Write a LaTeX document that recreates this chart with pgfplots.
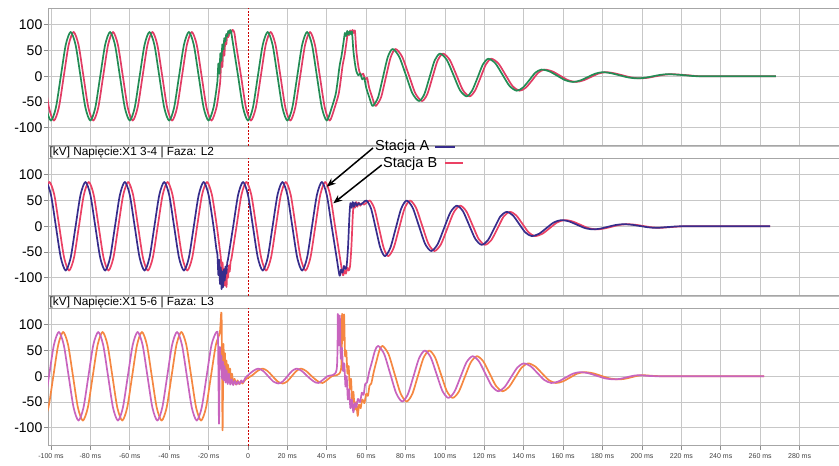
\documentclass[border=0pt]{standalone}
\usepackage{pgfplots}
\pgfplotsset{compat=1.18}
\usepackage{fontspec}
\setmainfont{Liberation Sans}
\usetikzlibrary{arrows.meta}
\definecolor{cgreen}{RGB}{35,140,85}
\definecolor{cred}{RGB}{225,60,100}
\definecolor{cblue}{RGB}{55,45,140}
\definecolor{credb}{RGB}{235,65,100}
\definecolor{cpurple}{RGB}{200,100,190}
\definecolor{corange}{RGB}{245,135,65}
\pgfplotsset{
 panel/.style={
  scale only axis, width=791pt, height=137.5pt,
  xmin=-101.5, xmax=300, ymin=-135, ymax=132,
  xtick={-100,-80,-60,-40,-20,20,40,60,80,100,120,140,160,180,200,220,240,260,280},
  extra x ticks={0},
  extra x tick style={major grid style={draw=red!80!black, dash pattern=on 2pt off 1.5pt, line width=0.7pt}},
  ytick={-100,-50,0,50,100},
  xmajorgrids, ymajorgrids,
  major grid style={draw=black!22, line width=0.9pt},
  axis line style={draw=black!35, line width=0.9pt},
  major tick style={draw=black!45, line width=0.7pt},
  tick align=outside, major tick length=4pt,
  xtick pos=bottom, ytick pos=left,
  /pgf/number format/assume math mode=true,
  yticklabel style={font=\fontsize{14}{14}\selectfont, inner sep=1.5pt},
  xticklabel style={font=\fontsize{7}{7}\selectfont, text=black!75},
  every axis plot/.append style={line width=1.7pt, smooth, tension=0.45, line join=round},
 }
}
\begin{document}
\begin{tikzpicture}
% ---------------- Panel 1 ----------------
\begin{axis}[panel, at={(48pt,-8.3pt)}, anchor=north west, xticklabels={}, extra x tick labels={}]
\addplot[color=cred] coordinates {(-103.5,0)(-101,-61)(-98.5,-86)(-96,-61)(-93.5,0)(-91,61)(-88.5,86)(-86,61)(-83.5,0)(-81,-61)(-78.5,-86)(-76,-61)(-73.5,0)(-71,61)(-68.5,86)(-66,61)(-63.5,0)(-61,-61)(-58.5,-86)(-56,-61)(-53.5,0)(-51,61)(-48.5,86)(-46,61)(-43.5,0)(-41,-61)(-38.5,-86)(-36,-61)(-33.5,0)(-31,61)(-28.5,86)(-26,61)(-23.5,0)(-21,-61)(-18.5,-86)(-16,-61)(-14.5,-24)(-14,-5)(-13.5,37)(-13,18)(-12.5,55)(-12,40)(-11.5,70)(-11,62)(-10.5,82)(-10,76)(-9,88)(-8.5,84)(-8,90)(-7,86)(-6,61)(-3.5,0)(-1,-61)(1.5,-86)(4,-61)(6.5,0)(9,61)(11.5,86)(14,61)(16.5,0)(19,-61)(21.5,-86)(24,-61)(26.5,0)(29,61)(31.5,86)(34,61)(36.5,0)(39,-61)(41.5,-86)(44,-61)(46,-35)(47,-10)(48,20)(49,40)(50,66)(50.7,84)(51.3,80)(51.9,89)(52.5,83)(53.1,90)(53.7,84)(54.3,88)(55,50)(55.8,25)(56.5,10)(57.5,2)(58.5,5)(59.5,-6)(60.5,-3)(61.5,-22)(63,-40)(64.3,-55)(65.1,-57)(67.55,-41)(70,-2)(72.45,37)(74.9,53)(78.25,38)(81.6,3)(84.95,-33)(88.3,-48)(91,-35)(93.65,-2)(96.3,31)(99,44)(102.4,32)(105.75,3)(109.1,-27)(112.5,-39)(115.25,-28)(118,-3)(120.75,23)(123.5,34)(127.1,25)(130.7,3)(134.3,-19)(137.9,-28)(141.05,-22)(144.2,-8)(147.35,7)(150.5,13)(154.5,9.5)(158.5,1)(162.5,-7.5)(166.5,-11)(170.25,-8)(174,-1.5)(177.75,5)(181.5,8)(185.75,6)(190,2)(194.25,-2)(198.5,-4)(202.75,-3)(207,0)(211.25,3)(215.5,4)(223.5,2)(231.5,0)(268,0)};
\addplot[color=cgreen] coordinates {(-105,0)(-102.5,-61)(-100,-86)(-97.5,-61)(-95,0)(-92.5,61)(-90,86)(-87.5,61)(-85,0)(-82.5,-61)(-80,-86)(-77.5,-61)(-75,0)(-72.5,61)(-70,86)(-67.5,61)(-65,0)(-62.5,-61)(-60,-86)(-57.5,-61)(-55,0)(-52.5,61)(-50,86)(-47.5,61)(-45,0)(-42.5,-61)(-40,-86)(-37.5,-61)(-35,0)(-32.5,61)(-30,86)(-27.5,61)(-25,0)(-22.5,-61)(-20,-86)(-17.5,-61)(-16,-25)(-15.5,-10)(-15,25)(-14.5,5)(-14,45)(-13.5,30)(-13,62)(-12.5,52)(-12,74)(-11.5,68)(-11,82)(-10.5,78)(-10,88)(-9.5,84)(-9,90)(-8.5,85)(-7.5,61)(-5,0)(-2.5,-61)(0,-86)(2.5,-61)(5,0)(7.5,61)(10,86)(12.5,61)(15,0)(17.5,-61)(20,-86)(22.5,-61)(25,0)(27.5,61)(30,86)(32.5,61)(35,0)(37.5,-61)(40,-86)(42.5,-61)(44.5,-35)(45.5,-10)(46.5,20)(47.5,40)(48.5,66)(49.2,84)(49.8,78)(50.4,88)(51,81)(51.6,87)(52.2,82)(52.8,86)(53.5,50)(54.3,25)(55,10)(56,2)(57,5)(58,-6)(59,-3)(60,-22)(61.5,-40)(62.8,-55)(63.6,-57)(66.05,-41)(68.5,-2)(70.95,37)(73.4,53)(76.75,38)(80.1,3)(83.45,-33)(86.8,-48)(89.5,-35)(92.15,-2)(94.8,31)(97.5,44)(100.9,32)(104.25,3)(107.6,-27)(111,-39)(113.75,-28)(116.5,-3)(119.25,23)(122,34)(125.6,25)(129.2,3)(132.8,-19)(136.4,-28)(139.55,-22)(142.7,-8)(145.85,7)(149,13)(153,9.5)(157,1)(161,-7.5)(165,-11)(168.75,-8)(172.5,-1.5)(176.25,5)(180,8)(184.25,6)(188.5,2)(192.75,-2)(197,-4)(201.25,-3)(205.5,0)(209.75,3)(214,4)(222,2)(230,0)(268,0)};
\end{axis}
% strip 1
\fill[white] (48pt,-145.8pt) rectangle (839pt,-158.3pt);
\draw[black!25, line width=0.6pt] (48pt,-145.8pt) -- (839pt,-145.8pt) (48pt,-158.3pt) -- (839pt,-158.3pt);
\draw[black!35, line width=0.9pt] (48pt,-145.8pt) -- (48pt,-158.3pt);
\node[anchor=west, inner sep=0pt, font=\fontsize{11.8}{12}\selectfont] at (49.5pt,-152pt) {[kV] Napięcie:X1 3-4 | Faza: L2};
% ---------------- Panel 2 ----------------
\begin{axis}[panel, at={(48pt,-158.3pt)}, anchor=north west, xticklabels={}, extra x tick labels={}]
\addplot[color=credb] coordinates {(-103.3,61)(-100.8,86)(-98.3,61)(-95.8,0)(-93.3,-61)(-90.8,-86)(-88.3,-61)(-85.8,0)(-83.3,61)(-80.8,86)(-78.3,61)(-75.8,0)(-73.3,-61)(-70.8,-86)(-68.3,-61)(-65.8,0)(-63.3,61)(-60.8,86)(-58.3,61)(-55.8,0)(-53.3,-61)(-50.8,-86)(-48.3,-61)(-45.8,0)(-43.3,61)(-40.8,86)(-38.3,61)(-35.8,0)(-33.3,-61)(-30.8,-86)(-28.3,-61)(-25.8,0)(-23.3,61)(-20.8,86)(-18.3,61)(-15.8,0)(-14.3,-45)(-13.8,-60)(-13.3,-98)(-12.9,-70)(-12.5,-108)(-12.1,-82)(-11.7,-115)(-11.3,-86)(-10.9,-118)(-10.5,-84)(-10.1,-100)(-9.7,-76)(-9.3,-88)(-8.8,-68)(-8.3,-61)(-5.8,0)(-3.3,61)(-0.8,86)(1.7,61)(4.2,0)(6.7,-61)(9.2,-86)(11.7,-61)(14.2,0)(16.7,61)(19.2,86)(21.7,61)(24.2,0)(26.7,-61)(29.2,-86)(31.7,-61)(34.2,0)(36.7,61)(39.2,86)(41.7,61)(44.2,0)(46.7,-61)(48.2,-95)(49,-86)(49.7,-92)(50.4,-80)(51.1,-86)(51.8,-78)(52.5,-40)(53.2,20)(53.7,45)(54.3,36)(54.9,47)(55.5,38)(56.2,46)(57,40)(57.9,45)(58.9,42)(60.2,46)(61.9,50)(64.2,34)(66.55,-4)(68.9,-42)(71.2,-58)(73.95,-42)(76.7,-4)(79.45,34)(82.2,50)(85.3,36)(88.45,1)(91.6,-34)(94.7,-48)(97.95,-35)(101.2,-4)(104.45,27)(107.7,40)(110.85,29)(114,2)(117.15,-25)(120.3,-36)(123.5,-27)(126.7,-4)(129.8,19)(133,28)(136.2,21)(139.35,4.5)(142.5,-12)(145.7,-19)(149.45,-14.5)(153.2,-3.5)(156.95,7.5)(160.7,12)(164.7,9.4)(168.7,3)(172.7,-3.4)(176.7,-6)(180.6,-4.5)(184.45,-1)(188.3,2.5)(192.2,4)(196.45,3)(200.7,0.5)(204.95,-2)(209.2,-3)(216.7,-1)(223.7,0)(265,0)};
\addplot[color=cblue] coordinates {(-105,61)(-102.5,86)(-100,61)(-97.5,0)(-95,-61)(-92.5,-86)(-90,-61)(-87.5,0)(-85,61)(-82.5,86)(-80,61)(-77.5,0)(-75,-61)(-72.5,-86)(-70,-61)(-67.5,0)(-65,61)(-62.5,86)(-60,61)(-57.5,0)(-55,-61)(-52.5,-86)(-50,-61)(-47.5,0)(-45,61)(-42.5,86)(-40,61)(-37.5,0)(-35,-61)(-32.5,-86)(-30,-61)(-27.5,0)(-25,61)(-22.5,86)(-20,61)(-17.5,0)(-16,-45)(-15.5,-55)(-15,-95)(-14.6,-65)(-14.2,-112)(-13.8,-80)(-13.4,-122)(-13,-88)(-12.6,-118)(-12.2,-84)(-11.8,-105)(-11.4,-78)(-11,-92)(-10.5,-70)(-10,-61)(-7.5,0)(-5,61)(-2.5,86)(0,61)(2.5,0)(5,-61)(7.5,-86)(10,-61)(12.5,0)(15,61)(17.5,86)(20,61)(22.5,0)(25,-61)(27.5,-86)(30,-61)(32.5,0)(35,61)(37.5,86)(40,61)(42.5,0)(45,-61)(46.5,-96)(47.3,-84)(48,-90)(48.7,-77)(49.4,-83)(50.1,-76)(50.8,-40)(51.5,20)(52,45)(52.6,36)(53.2,47)(53.8,38)(54.5,46)(55.3,40)(56.2,45)(57.2,42)(58.5,46)(60.2,50)(62.5,34)(64.85,-4)(67.2,-42)(69.5,-58)(72.25,-42)(75,-4)(77.75,34)(80.5,50)(83.6,36)(86.75,1)(89.9,-34)(93,-48)(96.25,-35)(99.5,-4)(102.75,27)(106,40)(109.15,29)(112.3,2)(115.45,-25)(118.6,-36)(121.8,-27)(125,-4)(128.1,19)(131.3,28)(134.5,21)(137.65,4.5)(140.8,-12)(144,-19)(147.75,-14.5)(151.5,-3.5)(155.25,7.5)(159,12)(163,9.4)(167,3)(171,-3.4)(175,-6)(178.9,-4.5)(182.75,-1)(186.6,2.5)(190.5,4)(194.75,3)(199,0.5)(203.25,-2)(207.5,-3)(215,-1)(222,0)(265,0)};
\end{axis}
% strip 2
\fill[white] (48pt,-295.8pt) rectangle (839pt,-308.3pt);
\draw[black!25, line width=0.6pt] (48pt,-295.8pt) -- (839pt,-295.8pt) (48pt,-308.3pt) -- (839pt,-308.3pt);
\draw[black!35, line width=0.9pt] (48pt,-295.8pt) -- (48pt,-308.3pt);
\node[anchor=west, inner sep=0pt, font=\fontsize{11.8}{12}\selectfont] at (49.5pt,-302pt) {[kV] Napięcie:X1 5-6 | Faza: L3};
% ---------------- Panel 3 ----------------
\begin{axis}[panel, at={(48pt,-308.3pt)}, anchor=north west,
  xticklabels={-100 ms,-80 ms,-60 ms,-40 ms,-20 ms,20 ms,40 ms,60 ms,80 ms,100 ms,120 ms,140 ms,160 ms,180 ms,200 ms,220 ms,240 ms,260 ms,280 ms},
  extra x tick labels={0}]
\addplot[color=corange] coordinates {(-103.8,-86)(-101.3,-61)(-98.8,0)(-96.3,61)(-93.8,86)(-91.3,61)(-88.8,0)(-86.3,-61)(-83.8,-86)(-81.3,-61)(-78.8,0)(-76.3,61)(-73.8,86)(-71.3,61)(-68.8,0)(-66.3,-61)(-63.8,-86)(-61.3,-61)(-58.8,0)(-56.3,61)(-53.8,86)(-51.3,61)(-48.8,0)(-46.3,-61)(-43.8,-86)(-41.3,-61)(-38.8,0)(-36.3,61)(-33.8,86)(-31.3,61)(-28.8,0)(-26.3,-61)(-23.8,-86)(-21.3,-61)(-18.8,0)(-16.3,61)(-14.3,84)(-13.4,118)(-12.9,-105)(-12.5,60)(-12.1,20)(-11.7,45)(-11.3,0)(-10.9,30)(-10.5,-5)(-10.1,22)(-9.6,-10)(-9.1,15)(-8.6,-12)(-8.1,5)(-7.5,-14)(-6.8,-5)(-6.1,-16)(-5.3,-8)(-4.5,-15)(-3.6,-10)(-2.8,-14)(-2,-10)(-1.2,-6)(2.2,2)(4.7,10)(7.4,15)(10,10)(12.5,0)(15,-10)(17.6,-14)(19.9,-10)(22.2,0)(24.5,10)(26.9,15)(29.6,10)(32.4,0)(35.2,-9)(37.9,-13)(42.5,0)(47.2,13)(47.8,121)(48.3,70)(48.8,120)(49.3,40)(49.9,50)(50.5,5)(51.1,20)(51.7,-25)(52.3,-5)(52.9,-50)(53.5,-30)(54.2,-65)(54.9,-50)(55.7,-77)(56.4,-55)(57.2,-62)(58,-45)(59.1,-52)(60,-34)(60.9,-38)(61.7,-18)(62.6,-14)(63.7,6)(65,26)(66.7,50)(68.3,59)(71.35,43)(74.4,5)(77.45,-33)(80.5,-49)(83.4,-34.5)(86.25,0.5)(89.1,35.5)(92,50)(95,36.5)(97.95,4)(100.9,-28.5)(103.9,-42)(107,-30)(110.05,-1.5)(113.1,27)(116.2,39)(119.45,29)(122.7,5)(125.95,-19)(129.2,-29)(132.45,-21)(135.7,-2)(138.95,17)(142.2,25)(145.7,19.4)(149.2,6)(152.7,-7.4)(156.2,-13)(159.8,-10)(163.45,-2.5)(167.1,5)(170.7,8)(174.95,6)(179.2,1)(183.45,-4)(187.7,-6)(191.1,-5)(194.45,-2)(197.8,1)(201.2,2)(212.2,0)(262,0)};
\addplot[color=cpurple] coordinates {(-106,-86)(-103.5,-61)(-101,0)(-98.5,61)(-96,86)(-93.5,61)(-91,0)(-88.5,-61)(-86,-86)(-83.5,-61)(-81,0)(-78.5,61)(-76,86)(-73.5,61)(-71,0)(-68.5,-61)(-66,-86)(-63.5,-61)(-61,0)(-58.5,61)(-56,86)(-53.5,61)(-51,0)(-48.5,-61)(-46,-86)(-43.5,-61)(-41,0)(-38.5,61)(-36,86)(-33.5,61)(-31,0)(-28.5,-61)(-26,-86)(-23.5,-61)(-21,0)(-18.5,61)(-16,86)(-15.2,70)(-14.7,-92)(-14.3,55)(-13.9,15)(-13.5,40)(-13.1,-5)(-12.7,28)(-12.3,-8)(-11.9,20)(-11.4,-12)(-10.9,12)(-10.3,-15)(-9.7,5)(-9,-16)(-8.3,-6)(-7.5,-17)(-6.7,-9)(-5.8,-16)(-5,-10)(-4.2,-15)(-3.4,-8)(-2.5,-12)(-1.5,-4)(0,2)(2.5,10)(5.2,15)(7.8,10)(10.3,0)(12.8,-10)(15.4,-14)(17.7,-10)(20,0)(22.3,10)(24.7,15)(27.4,10)(30.2,0)(33,-9)(35.7,-13)(40.3,0)(45,13)(45.6,121)(46.1,60)(46.6,118)(47.1,35)(47.7,55)(48.3,10)(48.9,25)(49.5,-20)(50.1,0)(50.7,-45)(51.3,-25)(52,-62)(52.7,-45)(53.5,-70)(54.2,-52)(55,-60)(55.8,-44)(56.9,-50)(57.8,-32)(58.7,-36)(59.5,-15)(60.4,-12)(61.5,8)(62.8,26)(64.5,50)(66.1,59)(69.15,43)(72.2,5)(75.25,-33)(78.3,-49)(81.2,-34.5)(84.05,0.5)(86.9,35.5)(89.8,50)(92.8,36.5)(95.75,4)(98.7,-28.5)(101.7,-42)(104.8,-30)(107.85,-1.5)(110.9,27)(114,39)(117.25,29)(120.5,5)(123.75,-19)(127,-29)(130.25,-21)(133.5,-2)(136.75,17)(140,25)(143.5,19.4)(147,6)(150.5,-7.4)(154,-13)(157.6,-10)(161.25,-2.5)(164.9,5)(168.5,8)(172.75,6)(177,1)(181.25,-4)(185.5,-6)(188.9,-5)(192.25,-2)(195.6,1)(199,2)(210,0)(262,0)};
\end{axis}
% annotations (legend text, sample lines and arrows)
\node[anchor=west, inner sep=0pt, font=\fontsize{14.5}{15}\selectfont] at (375pt,-147pt) {Stacja A};
\draw[line width=1.8pt, draw=cblue] (435pt,-146.7pt) -- (455pt,-146.7pt);
\node[anchor=west, inner sep=0pt, font=\fontsize{14.5}{15}\selectfont] at (383pt,-163.5pt) {Stacja B};
\fill[fill=credb] (445pt,-162.1pt) rectangle (463pt,-164.1pt);
\draw[-{Stealth[length=9pt,width=7pt]}, line width=1.5pt] (373pt,-148pt) -- (326.7pt,-186.7pt);
\draw[-{Stealth[length=9pt,width=7pt]}, line width=1.5pt] (381.7pt,-165pt) -- (333.3pt,-203.3pt);
\pgfresetboundingbox
\useasboundingbox (0pt,0pt) rectangle (839pt,-466pt);
\end{tikzpicture}
\end{document}
